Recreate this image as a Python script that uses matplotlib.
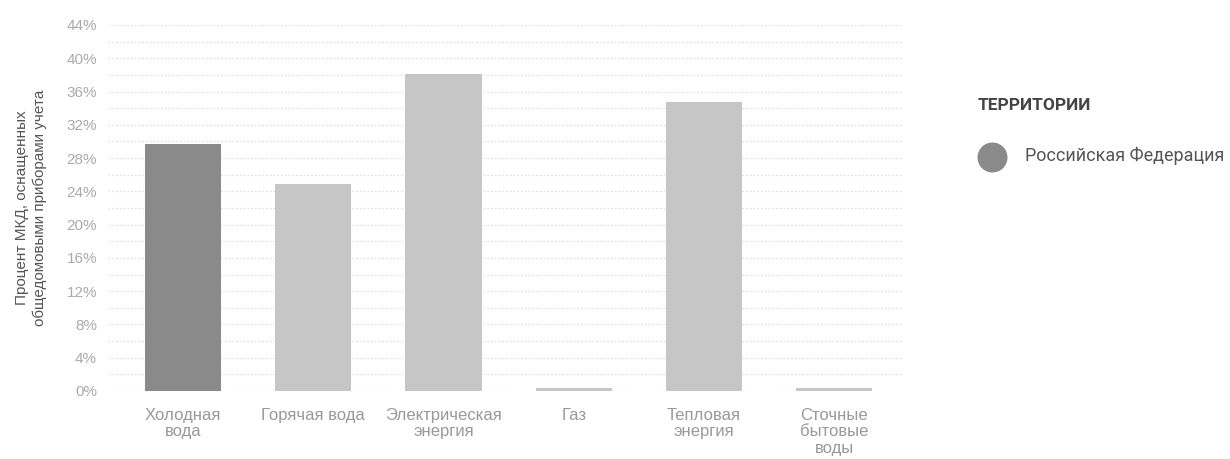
import matplotlib
matplotlib.use("Agg")
import matplotlib.pyplot as plt
import numpy as np

# Data
categories = ["Холодная\nвода", "Горячая вода", "Электрическая\nэнергия",
              "Газ", "Тепловая\nэнергия", "Сточные\nбытовые\nводы"]
values = [29.7, 24.9, 38.1, 0.4, 34.7, 0.4]
bar_colors = ["#8a8a8a", "#c6c6c6", "#c6c6c6", "#c6c6c6", "#c6c6c6", "#c6c6c6"]
yticks = list(range(0, 45, 4))
ytick_labels = [f"{v}%" for v in yticks]
ylabel = "Процент МКД, оснащенных\nобщедомовыми приборами учета"
legend_title = "ТЕРРИТОРИИ"
legend_label = "Российская Федерация"

plt.rcParams['font.family'] = ['Liberation Sans', 'DejaVu Sans']

fig = plt.figure(figsize=(12.3, 4.59), dpi=100)
ax = fig.add_axes([108 / 1230, 1 - 391 / 459, (903 - 108) / 1230, (391 - 25) / 459])

x = np.arange(len(categories))
ax.bar(x, values, width=0.585, color=bar_colors, zorder=3)

# dotted grid every 2%
for g in range(0, 45, 2):
    ax.axhline(g, color="#e2e2e2", linewidth=0.9, linestyle=(0, (1.5, 1.5)), zorder=1)

ax.set_xlim(-0.577, 5.53)
ax.set_ylim(0, 44)
ax.set_yticks(yticks)
ax.set_yticklabels(ytick_labels, color="#aaaaaa", fontsize=11)
ax.set_xticks(x)
ax.set_xticklabels(categories, color="#999999", fontsize=12, linespacing=1.15)
ax.tick_params(axis="y", length=0, pad=8)
ax.tick_params(axis="x", length=0, pad=12)
for s in ax.spines.values():
    s.set_visible(False)

ax.set_ylabel(ylabel, color="#555555", fontsize=11, linespacing=1.3, labelpad=14)

# legend on the right
fig.text(978 / 1230, 1 - 105 / 459, legend_title, fontsize=12.5, fontweight="bold",
         color="#444444", va="center", ha="left", family=["Roboto", "DejaVu Sans"])
ax_leg = fig.add_axes([0, 0, 1, 1], facecolor="none")
ax_leg.set_axis_off()
ax_leg.set_xlim(0, 1230)
ax_leg.set_ylim(459, 0)
ax_leg.scatter([992], [157], s=467, color="#8a8a8a", linewidths=0, zorder=3)
fig.text(1025 / 1230, 1 - 156 / 459, legend_label, fontsize=13,
         color="#555555", va="center", ha="left", family=["Roboto", "DejaVu Sans"])

fig.savefig("out.png", dpi=100)
